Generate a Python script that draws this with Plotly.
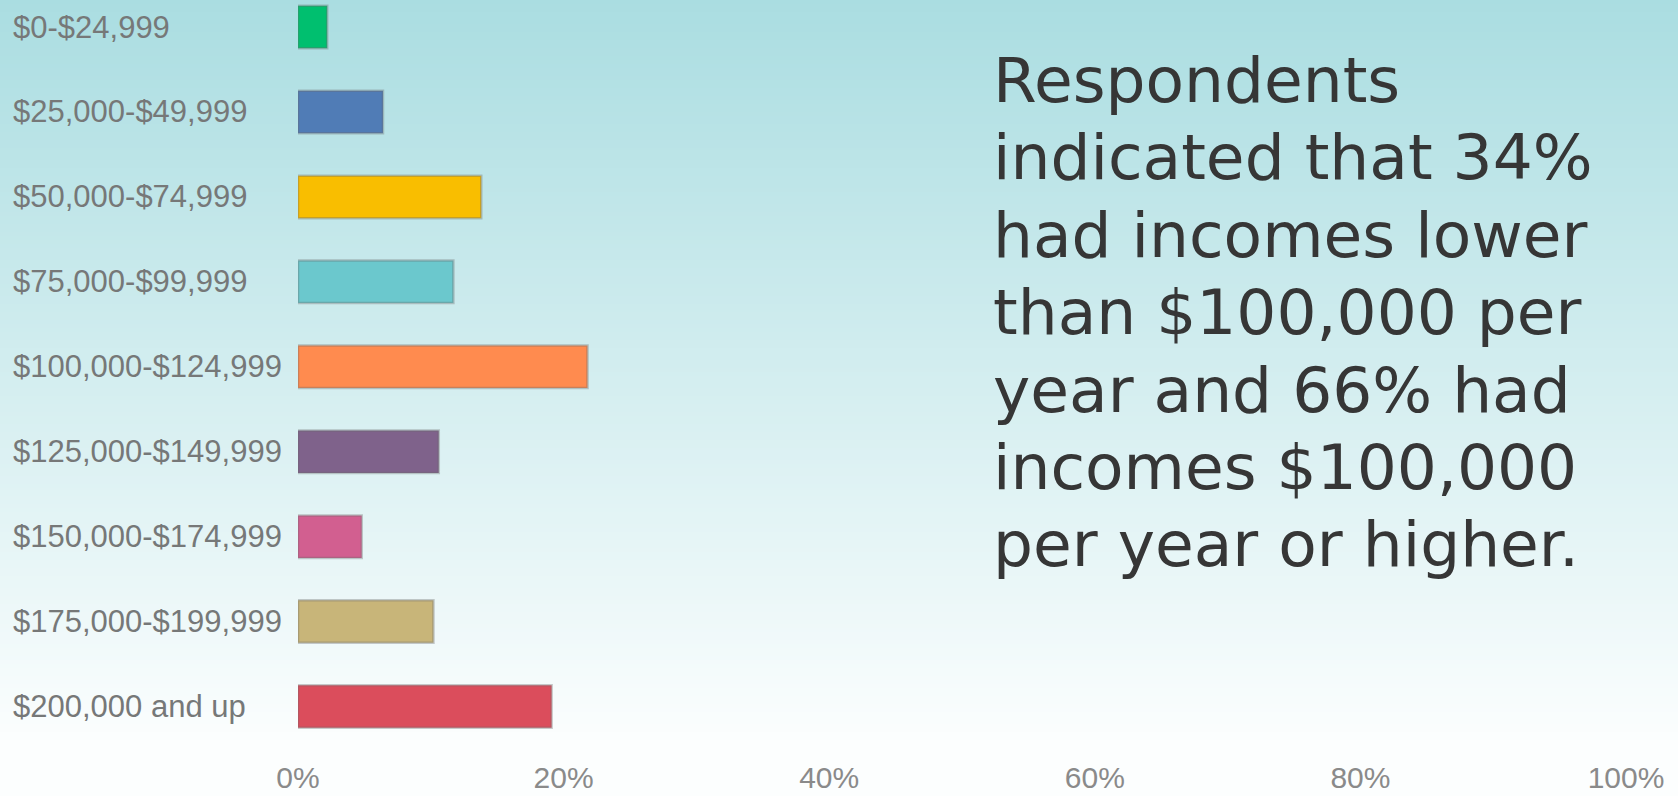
import plotly.graph_objects as go

# Household income bands and share of respondents (%)
categories = [
    "$0-$24,999",
    "$25,000-$49,999",
    "$50,000-$74,999",
    "$75,000-$99,999",
    "$100,000-$124,999",
    "$125,000-$149,999",
    "$150,000-$174,999",
    "$175,000-$199,999",
    "$200,000 and up",
]
shares = [2.2, 6.4, 13.8, 11.7, 21.8, 10.6, 4.8, 10.2, 19.1]
bar_colors = [
    "#00BF6F", "#507CB6", "#F9BE00", "#6BC8CD", "#FF8B4F",
    "#7F628B", "#D25F90", "#C8B579", "#DB4D5C",
]
tick_values = [0, 20, 40, 60, 80, 100]
tick_labels = ["0%", "20%", "40%", "60%", "80%", "100%"]

summary_lines = [
    "Respondents",
    "indicated that 34%",
    "had incomes lower",
    "than $100,000 per",
    "year and 66% had",
    "incomes $100,000",
    "per year or higher.",
]

W, H = 1678, 796
M_L, M_R, M_T, M_B = 298, 52, 0, 47
plot_w = W - M_L - M_R
plot_h = H - M_T - M_B


def px_to_paper_x(px):
    return (px - M_L) / plot_w


def px_to_paper_y(py):
    return (H - M_B - py) / plot_h


fig = go.Figure()

fig.add_trace(
    go.Bar(
        x=shares,
        y=categories,
        orientation="h",
        width=0.5,
        marker=dict(
            color=bar_colors,
            line=dict(color="rgba(105,105,105,0.35)", width=2.5),
        ),
        hoverinfo="x+y",
    )
)

# Vertical teal-to-white background wash (bands overlap to avoid seams)
top_rgb = (170, 221, 225)
bot_rgb = (252, 254, 254)
fade_end = 745
shapes = []
step = 4
for y0 in range(0, H, step):
    t = min(1.0, (y0 + step / 2) / fade_end)
    r, g, b = (round(a + (c - a) * t) for a, c in zip(top_rgb, bot_rgb))
    shapes.append(
        dict(
            type="rect",
            xref="paper",
            yref="paper",
            x0=px_to_paper_x(-2),
            x1=px_to_paper_x(W + 2),
            y0=px_to_paper_y(min(H + 2, y0 + step + 2)),
            y1=px_to_paper_y(y0),
            fillcolor=f"rgb({r},{g},{b})",
            line=dict(width=0),
            layer="below",
        )
    )

# Left-aligned category labels
annotations = [
    dict(
        x=px_to_paper_x(11),
        y=cat,
        xref="paper",
        yref="y",
        text=cat,
        showarrow=False,
        xanchor="left",
        yanchor="middle",
        font=dict(family="Liberation Sans, Arial, sans-serif", size=31, color="#767878"),
    )
    for cat in categories
]

# Summary text, one annotation per line for tighter leading
text_size = 63
first_top = 42
leading = 77.4
for i, line in enumerate(summary_lines):
    annotations.append(
        dict(
            x=px_to_paper_x(991),
            y=px_to_paper_y(first_top + i * leading),
            xref="paper",
            yref="paper",
            text=line,
            showarrow=False,
            xanchor="left",
            yanchor="top",
            align="left",
            font=dict(family="DejaVu Sans, sans-serif", size=text_size, color="#363636"),
        )
    )

fig.update_layout(
    width=W,
    height=H,
    margin=dict(l=M_L, r=M_R, t=M_T, b=M_B),
    paper_bgcolor="#ffffff",
    plot_bgcolor="rgba(0,0,0,0)",
    showlegend=False,
    shapes=shapes,
    annotations=annotations,
    xaxis=dict(
        range=[0, 100],
        tickvals=tick_values,
        ticktext=tick_labels,
        showgrid=False,
        zeroline=False,
        showline=False,
        ticks="",
        ticklabelstandoff=8,
        automargin=False,
        tickfont=dict(family="Liberation Sans, Arial, sans-serif", size=30, color="#8a8a8a"),
        fixedrange=True,
    ),
    yaxis=dict(
        type="category",
        categoryorder="array",
        categoryarray=categories,
        range=[8.5, -0.318],
        showticklabels=False,
        showgrid=False,
        zeroline=False,
        showline=False,
        automargin=False,
        fixedrange=True,
    ),
)

fig.write_html("out.html")
